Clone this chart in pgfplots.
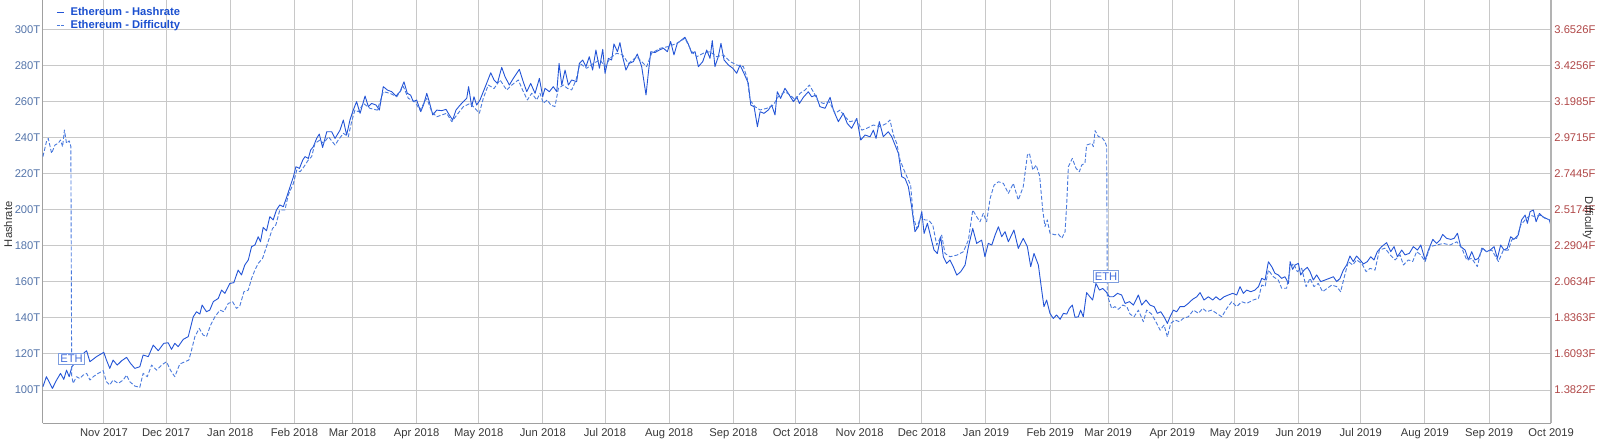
\documentclass[border=0pt]{standalone}
\usepackage{pgfplots}
\pgfplotsset{compat=1.18}
\usepackage{pgfplotstable}
\usepackage{fontspec}
\setmainfont{Liberation Sans}

\definecolor{hashblue}{HTML}{2354D6}
\definecolor{diffblue}{HTML}{4A7ADD}
\definecolor{leftlab}{HTML}{5575AA}
\definecolor{rightlab}{HTML}{B04848}
\definecolor{gridgray}{HTML}{C8C8C8}
\definecolor{axisgray}{HTML}{A0A0A0}
\definecolor{ethborder}{HTML}{7F9FDF}
\definecolor{legblue}{HTML}{1A4FCF}

\newcommand{\lab}{\fontsize{5.6}{6.7}\selectfont}

% x = days since 1 Oct 2017, hashrate in TH/s
\pgfplotstableread{
day H
1.5 101.8
3.2 107.4
6.1 100.9
8.1 105.5
10.0 109.2
11.6 105.9
12.9 111.0
14.2 107.4
15.5 112.9
18.5 117.0
21.8 121.0
22.6 121.8
24.2 115.7
27.4 118.5
30.9 120.9
32.2 116.6
33.8 112.0
35.4 116.6
37.4 113.8
39.5 116.2
41.9 118.1
43.8 114.8
45.9 112.0
48.3 112.9
49.9 119.4
52.4 118.5
54.8 124.9
57.2 121.8
59.9 125.9
62.0 126.2
63.6 122.5
65.2 125.9
66.8 124.0
69.3 128.1
71.7 129.6
74.1 140.6
75.7 143.4
77.3 142.1
78.4 147.1
80.5 143.4
82.1 144.3
83.8 149.0
86.2 150.8
87.8 155.4
89.4 153.6
91.8 159.1
93.7 159.5
95.8 166.5
97.4 163.8
99.0 169.3
100.7 172.1
102.3 179.5
103.9 180.4
105.5 185.0
106.6 182.2
107.9 190.2
109.5 188.3
111.1 196.1
112.7 194.3
114.3 199.8
115.9 202.6
117.6 201.6
119.2 206.8
122.5 218.3
123.7 223.8
125.4 222.9
127.0 227.5
128.1 229.4
129.7 228.4
130.8 233.0
132.1 234.9
133.7 239.5
135.0 241.9
136.6 234.5
138.6 243.2
141.0 243.2
142.6 239.5
145.0 244.1
146.6 249.7
148.2 241.4
149.8 249.7
151.4 255.2
153.0 259.9
154.7 253.4
157.1 263.0
158.7 257.1
160.3 258.9
162.4 258.0
164.0 255.2
165.9 268.2
167.9 266.3
170.0 265.4
172.0 263.0
174.0 265.4
175.9 270.9
177.5 264.5
179.1 263.5
180.4 259.9
182.0 260.8
184.0 254.3
185.3 258.0
186.9 264.5
188.1 259.9
189.8 252.5
191.7 255.2
194.1 254.9
196.2 255.6
197.8 252.5
199.4 249.7
201.0 255.2
203.0 258.0
204.6 259.9
206.2 261.7
207.1 268.2
208.6 257.1
209.7 262.6
211.0 258.0
212.6 260.8
214.2 265.4
215.8 270.0
217.8 275.9
219.4 271.9
221.0 270.0
223.1 278.9
224.7 273.7
226.8 269.1
228.7 272.8
231.6 277.8
233.5 270.9
235.2 265.4
237.1 270.0
239.2 264.5
241.3 272.8
242.9 262.7
244.0 267.3
246.1 265.4
248.0 268.2
249.7 265.4
250.8 281.1
252.1 269.1
253.7 277.4
255.3 269.1
256.9 271.9
259.3 271.0
260.6 281.1
262.2 283.0
263.8 279.3
265.4 284.8
267.0 277.4
268.6 288.5
270.3 278.4
271.9 288.9
273.0 275.6
274.6 283.9
276.2 283.0
277.3 291.9
279.0 287.6
280.2 292.6
281.5 284.8
283.1 277.4
284.7 281.1
286.7 282.1
288.6 286.3
290.7 279.3
292.8 263.6
293.9 275.6
295.1 287.6
297.1 287.1
299.2 288.5
301.2 289.5
303.1 287.6
304.7 293.2
306.3 285.8
307.9 292.2
310.0 294.1
311.6 295.6
313.2 291.9
314.9 286.7
316.5 287.6
318.1 279.3
320.2 282.1
322.1 288.5
323.7 283.9
324.8 293.7
326.1 279.3
327.7 284.8
329.0 292.2
330.5 283.0
332.6 280.2
334.7 278.4
336.6 275.6
338.2 280.2
340.1 275.6
342.2 270.1
343.4 258.0
345.0 257.1
346.6 246.0
347.9 254.3
349.8 253.4
351.9 255.3
353.5 258.0
355.1 252.5
356.2 265.4
357.8 261.7
359.9 267.3
361.5 264.5
364.0 259.9
365.6 262.6
366.9 258.9
368.8 262.3
371.2 265.4
372.8 262.6
374.9 263.5
376.8 257.1
379.3 256.2
381.7 262.3
383.3 255.2
385.7 248.8
388.1 253.4
390.0 247.8
392.1 245.1
394.6 250.6
396.5 238.6
398.6 241.4
401.0 240.4
402.6 244.1
403.9 239.5
405.5 248.8
407.4 240.4
409.8 243.2
411.5 240.4
413.1 235.8
414.7 231.2
416.3 218.3
417.9 217.3
419.5 212.7
421.1 201.6
422.7 187.8
424.3 190.5
426.0 198.9
427.1 186.8
428.7 192.4
430.3 185.0
431.9 177.6
433.5 175.7
435.1 185.0
436.4 173.9
438.0 170.2
439.6 172.1
441.2 168.4
442.9 163.7
444.8 165.6
446.9 169.3
448.5 179.4
450.6 189.6
452.5 181.3
454.9 183.1
456.5 173.9
458.1 181.3
459.8 180.4
461.4 185.9
463.0 190.5
464.6 185.0
466.2 187.8
467.8 182.2
470.5 188.7
472.6 178.5
475.0 184.1
477.0 179.4
478.6 168.4
480.2 175.7
482.3 169.3
483.9 155.4
485.0 146.2
486.3 149.9
487.9 142.5
489.5 139.7
491.1 141.6
492.8 139.2
494.4 142.5
496.0 142.1
497.3 145.3
498.7 147.1
500.0 140.3
501.6 140.6
502.7 144.3
504.0 140.6
505.6 154.0
507.2 151.7
508.5 149.9
510.1 159.1
511.8 155.4
513.4 156.3
515.0 154.5
516.6 151.7
518.5 151.7
520.5 153.6
522.5 152.7
524.2 148.0
526.3 149.0
528.2 147.1
530.6 152.7
532.2 147.1
534.3 149.9
536.2 147.1
538.2 146.2
539.8 142.5
541.4 143.4
543.0 140.6
544.6 136.9
545.9 140.6
547.5 144.3
549.1 143.4
550.7 146.2
552.7 146.2
554.7 148.0
556.8 150.3
558.8 151.7
560.4 154.0
562.3 149.9
564.4 151.7
566.5 149.9
568.1 151.7
570.0 149.9
572.0 151.7
574.1 152.7
576.2 153.6
578.1 152.7
579.7 157.3
581.3 153.6
582.9 155.4
584.9 154.5
586.9 155.4
588.6 157.3
590.2 161.9
591.8 161.0
593.4 171.1
595.0 168.4
596.6 164.7
598.2 163.8
599.8 161.9
601.4 162.8
603.1 159.1
603.9 171.2
605.1 166.9
606.3 169.3
607.9 170.2
609.0 163.8
610.6 166.5
612.2 168.0
613.5 165.6
615.1 161.0
616.7 163.8
618.7 160.1
620.8 161.0
622.8 161.9
624.8 162.8
626.4 160.1
628.0 161.9
629.6 166.5
631.2 169.3
632.8 174.3
634.4 171.2
636.0 174.3
637.7 172.1
639.3 169.9
641.2 171.2
642.8 173.9
644.4 172.1
646.0 176.7
648.1 179.5
650.5 181.7
652.5 176.7
654.1 179.5
655.7 173.9
657.8 177.6
659.4 174.9
661.5 175.8
663.4 179.5
665.4 177.6
667.0 180.4
669.1 172.1
670.7 177.6
672.8 183.5
674.7 181.3
676.3 183.2
677.6 186.3
679.5 184.1
681.5 183.5
683.1 184.1
684.7 186.9
686.3 179.5
688.4 177.6
690.0 172.1
691.6 176.7
693.2 172.1
694.8 173.0
696.9 178.6
698.8 176.7
700.5 177.6
702.4 179.5
704.0 173.0
705.6 180.4
707.2 177.6
708.8 178.6
710.4 185.0
712.0 183.5
714.1 186.0
715.7 194.3
717.4 197.0
718.5 192.4
719.8 198.9
721.4 199.8
722.7 193.3
724.3 197.9
725.9 196.1
727.5 195.2
729.1 194.3
730.0 190.5
}\hashtab

% difficulty (right axis, F)
\pgfplotstableread{
day F
1.5 2.851
3.2 2.945
4.1 2.966
5.7 2.872
7.3 2.924
8.9 2.935
10.0 2.956
11.0 2.914
11.9 3.019
12.9 2.935
14.2 2.951
15.0 2.915
15.4 1.473
16.1 1.424
17.7 1.466
19.3 1.455
20.9 1.476
22.6 1.487
24.2 1.445
25.8 1.466
28.2 1.487
30.6 1.504
32.2 1.434
33.8 1.414
35.4 1.445
37.9 1.424
40.3 1.445
41.9 1.476
43.5 1.434
45.9 1.407
48.3 1.399
49.9 1.487
51.9 1.466
54.0 1.539
56.4 1.507
58.8 1.539
61.2 1.560
63.1 1.507
65.2 1.466
67.6 1.546
70.1 1.560
72.0 1.571
73.3 1.634
74.9 1.718
77.0 1.770
78.9 1.728
80.5 1.718
82.5 1.791
84.6 1.843
87.0 1.885
88.9 1.875
91.0 1.927
93.1 1.938
95.0 1.896
96.6 1.911
98.6 2.001
100.7 2.011
102.3 2.085
103.9 2.137
105.5 2.179
107.6 2.211
109.5 2.285
110.8 2.337
112.4 2.399
114.0 2.421
115.9 2.515
118.4 2.515
120.0 2.609
122.5 2.683
124.1 2.767
125.7 2.756
127.6 2.788
129.7 2.830
131.3 2.851
132.9 2.934
135.3 2.956
137.0 2.934
139.4 2.976
142.6 2.924
144.2 2.956
146.6 2.998
149.0 2.976
150.6 3.071
152.2 3.144
153.9 3.134
156.3 3.186
159.5 3.155
163.0 3.144
165.9 3.260
169.1 3.250
172.4 3.228
175.6 3.292
178.0 3.218
181.2 3.197
183.6 3.144
186.9 3.218
189.3 3.134
191.7 3.102
194.1 3.113
196.5 3.124
199.0 3.071
201.4 3.113
204.6 3.166
207.8 3.186
210.2 3.155
212.3 3.124
214.2 3.218
216.6 3.302
219.4 3.280
222.3 3.334
225.5 3.270
228.0 3.302
231.1 3.334
233.2 3.270
235.5 3.208
237.6 3.250
240.0 3.208
241.6 3.250
243.2 3.187
245.1 3.208
246.8 3.176
248.8 3.166
250.5 3.281
252.9 3.302
254.8 3.281
256.9 3.271
259.0 3.334
260.9 3.438
264.1 3.407
267.4 3.438
270.6 3.460
273.0 3.418
275.4 3.470
278.6 3.502
281.5 3.491
284.3 3.438
288.3 3.480
290.7 3.449
293.1 3.418
295.5 3.502
299.6 3.533
303.6 3.544
307.6 3.564
311.6 3.596
314.9 3.512
317.3 3.480
320.5 3.502
323.7 3.512
326.9 3.480
330.2 3.491
333.4 3.449
336.6 3.428
339.8 3.418
341.7 3.344
343.0 3.208
345.4 3.166
347.9 3.145
351.1 3.155
354.3 3.176
356.7 3.229
359.9 3.260
362.4 3.239
364.8 3.208
367.2 3.250
369.6 3.270
371.7 3.302
374.0 3.250
376.0 3.197
378.5 3.186
381.3 3.197
384.1 3.124
386.5 3.144
388.9 3.102
391.3 3.071
394.6 3.082
397.0 3.018
399.4 3.029
402.6 3.050
405.8 3.040
409.0 3.060
410.6 3.082
412.3 2.987
413.9 2.934
415.5 2.830
417.4 2.767
419.5 2.704
420.6 2.672
421.9 2.473
423.5 2.399
425.5 2.473
427.6 2.452
429.2 2.452
431.3 2.421
433.2 2.295
435.6 2.357
437.2 2.242
439.6 2.221
442.9 2.231
446.1 2.253
448.5 2.326
450.6 2.515
452.5 2.473
454.1 2.441
455.7 2.494
457.3 2.441
459.0 2.588
460.9 2.672
463.0 2.693
465.4 2.683
467.8 2.620
470.2 2.683
472.6 2.578
475.0 2.662
477.0 2.861
478.0 2.872
479.6 2.767
481.2 2.798
482.8 2.735
483.1 2.704
484.4 2.515
485.5 2.411
486.6 2.453
487.9 2.369
490.3 2.359
491.9 2.364
493.6 2.337
495.2 2.379
496.0 2.557
496.8 2.788
498.7 2.840
500.5 2.777
502.1 2.756
503.2 2.798
504.8 2.809
505.6 2.924
508.1 2.935
508.9 2.914
509.7 3.015
511.3 2.977
512.9 2.973
514.5 2.945
515.3 2.914
515.6 1.969
516.1 1.959
517.7 1.896
519.3 1.907
520.9 1.890
523.0 1.917
525.0 1.907
526.6 1.860
528.5 1.843
530.6 1.885
533.0 1.812
534.6 1.885
537.0 1.860
539.5 1.801
541.1 1.759
543.0 1.791
544.6 1.717
546.2 1.801
548.3 1.823
550.4 1.812
552.3 1.833
554.7 1.843
557.2 1.885
559.6 1.865
561.7 1.896
563.6 1.875
566.0 1.885
568.4 1.865
570.9 1.843
573.3 1.896
575.7 1.938
578.1 1.907
580.5 1.938
582.9 1.927
586.1 1.949
588.6 1.959
590.2 2.043
591.8 2.033
593.4 2.137
595.8 2.095
598.2 2.074
599.8 2.023
602.2 2.023
603.9 2.148
605.5 2.179
607.4 2.127
609.5 2.148
611.6 2.033
613.5 2.085
615.4 2.033
617.5 2.053
619.6 2.001
621.9 2.023
624.0 2.043
626.4 2.033
628.3 2.001
629.9 2.085
632.0 2.191
634.1 2.169
636.0 2.201
638.5 2.179
640.6 2.127
642.5 2.148
644.9 2.137
647.0 2.263
649.7 2.275
652.2 2.233
654.6 2.201
657.0 2.233
658.6 2.169
661.0 2.201
663.1 2.191
665.0 2.253
667.0 2.233
669.1 2.191
671.5 2.285
674.7 2.295
677.9 2.305
681.1 2.295
684.4 2.315
686.8 2.275
689.2 2.201
691.6 2.211
694.3 2.159
696.4 2.275
698.8 2.253
701.3 2.263
704.5 2.191
706.9 2.263
709.3 2.263
710.9 2.327
713.3 2.337
715.3 2.421
717.4 2.453
719.8 2.483
722.2 2.473
724.6 2.483
727.0 2.463
729.4 2.453
}\difftab

\begin{document}
\begin{tikzpicture}
\useasboundingbox (0,0) rectangle (800pt,220pt);

\begin{axis}[
    at={(21.35pt,8.35pt)}, anchor=south west,
    scale only axis, width=754.25pt, height=211.65pt,
    xmin=1.4, xmax=730, ymin=81.54, ymax=316.25,
    axis x line*=bottom, axis y line*=left,
    axis line style={-, draw=axisgray, line width=0.8pt},
    major tick length=0pt,
    grid=major, grid style={gridgray, line width=0.5pt},
    xtick={31,61,92,123,151,182,212,243,273,304,335,365,396,426,457,488,516,547,577,608,638,669,700,730},
    xticklabels={Nov 2017,Dec 2017,Jan 2018,Feb 2018,Mar 2018,Apr 2018,May 2018,Jun 2018,Jul 2018,Aug 2018,Sep 2018,Oct 2018,Nov 2018,Dec 2018,Jan 2019,Feb 2019,Mar 2019,Apr 2019,May 2019,Jun 2019,Jul 2019,Aug 2019,Sep 2019,Oct 2019},
    ytick={100,120,...,300},
    yticklabels={100T,120T,140T,160T,180T,200T,220T,240T,260T,280T,300T},
    tick label style={font=\lab, inner sep=1pt},
    x tick label style={text=black!78},
    xticklabel shift=1.4pt,
    y tick label style={text=leftlab},
    ylabel={Hashrate},
    every axis y label/.style={at={(axis description cs:-0.0230,0.47)}, anchor=center, rotate=90, font=\lab, text=black!80},
    legend cell align=left,
    legend style={at={(axis description cs:0.0048,0.993)}, anchor=north west, draw=none, fill=none,
        font=\bfseries\lab, text=legblue, column sep=3pt, row sep=1.5pt,
        nodes={inner sep=0pt, text height=4pt, text depth=1pt}},
    legend image code/.code={\draw[#1] (0pt,0pt) -- (3.5pt,0pt);},
]
\addplot[hashblue, line width=0.45pt, line join=round] table[x=day, y=H] {\hashtab};
\addlegendentry{Ethereum - Hashrate}
\addlegendimage{diffblue, line width=0.6pt, dash pattern=on 1.3pt off 0.9pt}
\addlegendentry{Ethereum - Difficulty}
\end{axis}

\begin{axis}[
    at={(21.35pt,8.35pt)}, anchor=south west,
    scale only axis, width=754.25pt, height=211.65pt,
    xmin=1.4, xmax=730, ymin=1.17264, ymax=3.83707,
    axis x line=none, axis y line*=right,
    axis line style={-, draw=axisgray!80, line width=1pt},
    major tick length=0pt,
    ytick={1.3822,1.6093,1.8363,2.0634,2.2904,2.5174,2.7445,2.9715,3.1985,3.4256,3.6526},
    yticklabels={1.3822F,1.6093F,1.8363F,2.0634F,2.2904F,2.5174F,2.7445F,2.9715F,3.1985F,3.4256F,3.6526F},
    tick label style={font=\lab, inner sep=1pt},
    yticklabel shift=0.4pt,
    y tick label style={text=rightlab},
    ylabel={Difficulty},
    every axis y label/.style={at={(axis description cs:1.0244,0.485)}, anchor=center, rotate=-90, font=\lab, text=black!80},
]
\addplot[diffblue, line width=0.45pt, dash pattern=on 2pt off 1pt, line join=round] table[x=day, y=F] {\difftab};
\node[draw=ethborder, fill=white, text=hashblue!85!white, font=\lab, inner xsep=0.8pt, inner ysep=1pt, line width=0.5pt] at (axis cs:15.3,1.5775) {ETH};
\node[draw=ethborder, fill=white, text=hashblue!85!white, font=\lab, inner xsep=0.8pt, inner ysep=1pt, line width=0.5pt] at (axis cs:515.0,2.0962) {ETH};
\end{axis}
\end{tikzpicture}
\end{document}
